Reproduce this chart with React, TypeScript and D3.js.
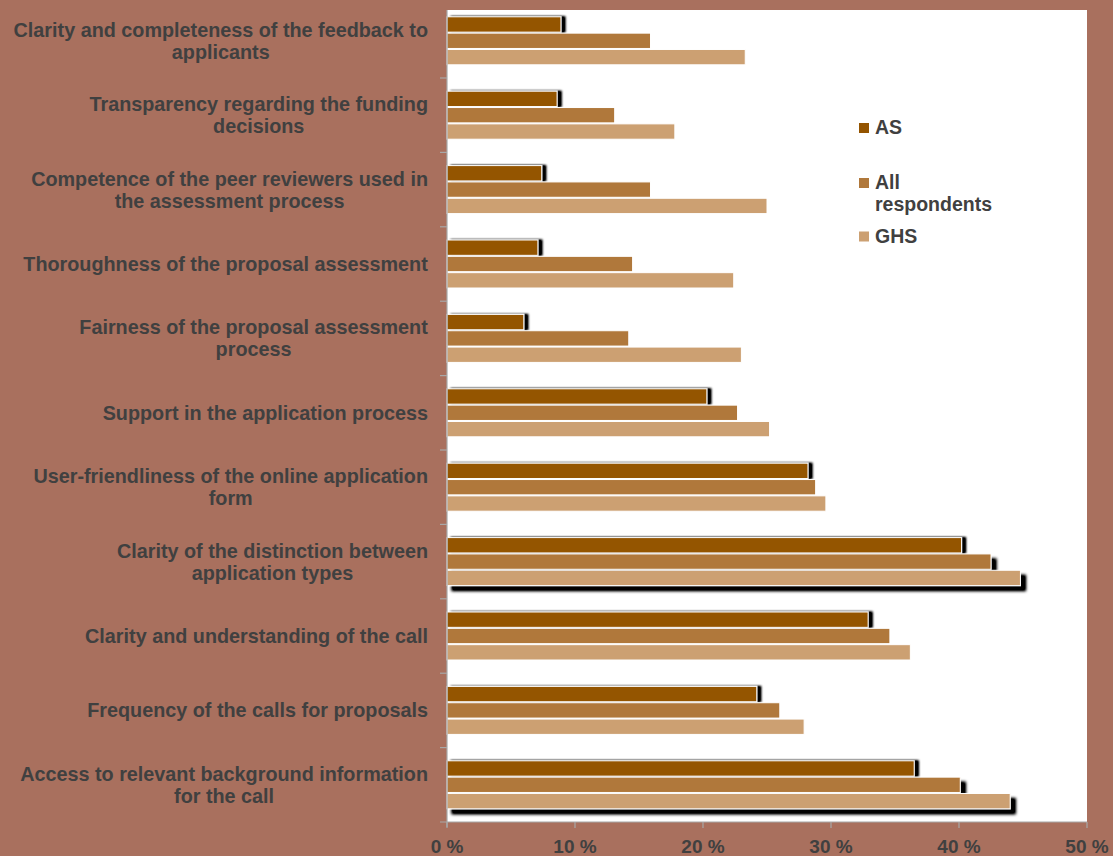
import React, { useEffect, useRef } from "react";
import * as d3 from "d3";

const categories = [
  "Clarity and completeness of the feedback to\napplicants",
  "Transparency regarding the funding\ndecisions",
  "Competence of the peer reviewers used in\nthe assessment process",
  "Thoroughness of the proposal assessment",
  "Fairness of the proposal assessment\nprocess",
  "Support in the application process",
  "User-friendliness of the online application\nform",
  "Clarity of the distinction between\napplication types",
  "Clarity and understanding of the call",
  "Frequency of the calls for proposals",
  "Access to relevant background information\nfor the call",
];

const seriesNames = ["AS", "All respondents", "GHS"];
const asValues = [8.9, 8.6, 7.4, 7.1, 6.0, 20.3, 28.2, 40.2, 32.9, 24.2, 36.5];
const allValues = [15.9, 13.1, 15.9, 14.5, 14.2, 22.7, 28.8, 42.5, 34.6, 26.0, 40.1];
const ghsValues = [23.3, 17.8, 25.0, 22.4, 23.0, 25.2, 29.6, 44.8, 36.2, 27.9, 44.0];
const xTicks = [0, 10, 20, 30, 40, 50];
const tickLabels = ["0 %", "10 %", "20 %", "30 %", "40 %", "50 %"];
const legendLines = [["AS"], ["All", "respondents"], ["GHS"]];
// categories whose bars carry a drop shadow on every series in the original
const shadowedCategories = [7, 10];

const COLORS = ["#945400", "#B0783B", "#CCA072"];
const BG = "#A9705E";
const TEXT = "#404040";
const AXIS = "#A8A8A8";
const FONT = "'Liberation Sans', Arial, Helvetica, sans-serif";

export default function App() {
  const ref = useRef<SVGSVGElement>(null);

  useEffect(() => {
    const svg = d3.select(ref.current);
    svg.selectAll("*").remove();
    const W = 1113;
    const H = 856;
    const left = 447, right = 1087, top = 10, bottom = 822;

    const x = d3.scaleLinear().domain([0, 50]).range([left, right]);
    const y = d3.scaleBand<string>().domain(categories).range([3.6, bottom]);
    const groupH = 49;
    const sub = d3.scaleBand<string>().domain(seriesNames).range([0, groupH]);

    const defs = svg.append("defs");
    const mkShadow = (id: string, dx: number, dy: number, sd: number) => {
      const f = defs.append("filter").attr("id", id)
        .attr("x", "-5%").attr("y", "-60%").attr("width", "115%").attr("height", "220%");
      f.append("feGaussianBlur").attr("in", "SourceAlpha").attr("stdDeviation", sd).attr("result", "b");
      f.append("feOffset").attr("in", "b").attr("dx", dx).attr("dy", dy).attr("result", "o");
      const ct = f.append("feComponentTransfer").attr("in", "o").attr("result", "c");
      ct.append("feFuncA").attr("type", "linear").attr("slope", 1.3);
      const m = f.append("feMerge");
      m.append("feMergeNode").attr("in", "c");
      m.append("feMergeNode").attr("in", "SourceGraphic");
    };
    mkShadow("shAS", 4, -0.5, 1.2);
    mkShadow("shHi", 5, 5, 1.4);

    svg.append("rect").attr("width", W).attr("height", H).attr("fill", BG);
    svg.append("rect").attr("x", left).attr("y", top)
      .attr("width", right - left).attr("height", bottom - top).attr("fill", "#fff");

    const series = [asValues, allValues, ghsValues];
    series.forEach((vals, si) => {
      const name = seriesNames[si];
      svg.append("g").selectAll("rect").data(vals).join("rect")
        .attr("x", x(0))
        .attr("y", (_, i) => (y(categories[i]) as number) + (y.bandwidth() - groupH) / 2 + (sub(name) as number) + 0.5)
        .attr("width", (d) => x(d) - x(0))
        .attr("height", sub.bandwidth() - 1)
        .attr("fill", COLORS[si])
        .attr("stroke", "#fff")
        .attr("stroke-width", 1)
        .attr("filter", (_, i) =>
          si === 0 ? "url(#shAS)" : shadowedCategories.includes(i) ? "url(#shHi)" : null);
    });

    // axes
    const ax = svg.append("g").attr("stroke", AXIS).attr("stroke-width", 1.2);
    ax.append("line").attr("x1", left).attr("x2", left).attr("y1", top).attr("y2", bottom + 5);
    ax.append("line").attr("x1", left - 7).attr("x2", right).attr("y1", bottom).attr("y2", bottom);
    categories.forEach((c, i) => {
      if (i === 0) return;
      const yy = y(c) as number;
      ax.append("line").attr("x1", left - 7).attr("x2", left).attr("y1", yy).attr("y2", yy);
    });
    xTicks.forEach((t) => {
      ax.append("line").attr("x1", x(t)).attr("x2", x(t)).attr("y1", bottom).attr("y2", bottom + 6);
    });

    svg.append("g").selectAll("text").data(xTicks).join("text")
      .attr("x", (d) => x(d)).attr("y", 853)
      .attr("text-anchor", "middle")
      .attr("font-family", FONT).attr("font-weight", "bold").attr("font-size", 19)
      .attr("fill", TEXT)
      .text((_, i) => tickLabels[i]);

    // category labels
    categories.forEach((c) => {
      const lines = c.split("\n");
      const cy = (y(c) as number) + y.bandwidth() / 2;
      const lh = 22;
      const t = svg.append("text")
        .attr("text-anchor", "middle")
        .attr("font-family", FONT).attr("font-weight", "bold").attr("font-size", 19.8)
        .attr("fill", TEXT);
      lines.forEach((ln, li) => {
        t.append("tspan").attr("x", 0)
          .attr("y", cy + 7 - ((lines.length - 1) * lh) / 2 + li * lh)
          .text(ln);
      });
      const w = (t.node() as SVGTextElement).getBBox().width;
      t.attr("transform", `translate(${428 - w / 2},0)`);
    });

    // legend
    const legendY = [123, 178, 231.5];
    const lg = svg.append("g");
    seriesNames.forEach((_, i) => {
      lg.append("rect").attr("x", 859).attr("y", legendY[i]).attr("width", 10).attr("height", 10)
        .attr("fill", COLORS[i]);
      const t = lg.append("text").attr("font-family", FONT).attr("font-weight", "bold")
        .attr("font-size", 19.5).attr("fill", TEXT);
      legendLines[i].forEach((ln, li) => {
        t.append("tspan").attr("x", 875).attr("y", legendY[i] + 11 + li * 22).text(ln);
      });
    });
  }, []);

  return (
    <svg
      ref={ref}
      width={1113}
      height={856}
      style={{ position: "absolute", left: 0, top: 0, display: "block" }}
    />
  );
}
